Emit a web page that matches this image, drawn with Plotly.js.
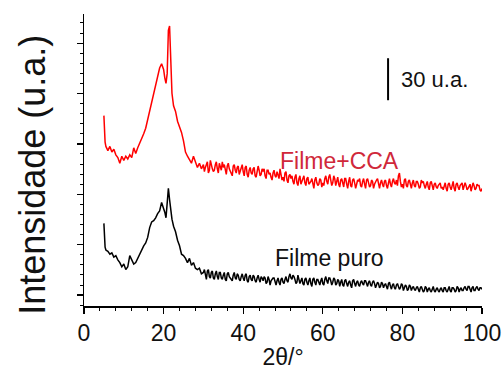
<!DOCTYPE html>
<html>
<head>
<meta charset="utf-8">
<script src="https://cdn.plot.ly/plotly-3.0.1.min.js"></script>
<style>html,body{margin:0;padding:0;background:#fff;}#chart{width:504px;height:370px;}</style>
</head>
<body>
<div id="chart"></div>
<script>
const twoTheta = [5,5.1,5.3,5.5,6,6.5,7,7.5,8,8.5,9,9.5,10,10.5,11,11.5,12,12.5,13,13.5,14,14.5,15,15.5,16,16.5,17,17.5,18,18.5,19,19.5,20,20.3,20.6,20.9,21.2,21.5,21.8,22.1,22.5,23,23.5,24,24.5,25,25.5,26,26.5,27,27.5,28,28.5,29,29.5,30,
30.5,31,31.5,32,32.5,33,33.5,34,34.5,35,35.5,36,36.5,37,37.5,38,38.5,39,39.5,40,
40.5,41,41.5,42,42.5,43,43.5,44,44.5,45,45.5,46,46.5,47,47.5,48,48.5,49,49.5,50,
50.5,51,51.5,52,52.5,53,53.5,54,54.5,55,55.5,56,56.5,57,57.5,58,58.5,59,59.5,60,
60.5,61,61.5,62,62.5,63,63.5,64,64.5,65,65.5,66,66.5,67,67.5,68,68.5,69,69.5,70,
70.5,71,71.5,72,72.5,73,73.5,74,74.5,75,75.5,76,76.5,77,77.5,78,78.5,79,79.5,80,
80.5,81,81.5,82,82.5,83,83.5,84,84.5,85,85.5,86,86.5,87,87.5,88,88.5,89,89.5,90,
90.5,91,91.5,92,92.5,93,93.5,94,94.5,95,95.5,96,96.5,97,97.5,98,98.5,99,99.5,100];

const twoThetaFine = [30.25,30.75,31.25,31.75,32.25,32.75,33.25,33.75,34.25,34.75,
35.25,35.75,36.25,36.75,37.25,37.75,38.25,38.75,39.25,39.75,
40.25,40.75,41.25,41.75,42.25,42.75,43.25,43.75,44.25,44.75,
45.25,45.75,46.25,46.75,47.25,47.75,48.25,48.75,49.25,49.75,
50.25,50.75,51.25,51.75,52.25,52.75,53.25,53.75,54.25,54.75,
55.25,55.75,56.25,56.75,57.25,57.75,58.25,58.75,59.25,59.75,
60.25,60.75,61.25,61.75,62.25,62.75,63.25,63.75,64.25,64.75,
65.25,65.75,66.25,66.75,67.25,67.75,68.25,68.75,69.25,69.75,
70.25,70.75,71.25,71.75,72.25,72.75,73.25,73.75,74.25,74.75,
75.25,75.75,76.25,76.75,77.25,77.75,78.25,78.75,79.25,79.75,
80.25,80.75,81.25,81.75,82.25,82.75,83.25,83.75,84.25,84.75,
85.25,85.75,86.25,86.75,87.25,87.75,88.25,88.75,89.25,89.75,
90.25,90.75,91.25,91.75,92.25,92.75,93.25,93.75,94.25,94.75,
95.25,95.75,96.25,96.75,97.25,97.75,98.25,98.75,99.25,99.75];

const filmeCCA = [136,124,117,114,111,114,110,112,108,106,102,107,104,107,105,108,106,113,109,113,116,119,123,127,133,138,144,150,157,163,170,173,169,163,159,166,197,200,178,152,143,139,132,128,124,118,110,107,104,102,107,103,99,102,98,101,
99,103,97,100,96,101,98,102,97,99,
96,100,98,95,100,97,99,94,98,96,
99,94,97,95,98,93,96,97,94,96,
93,97,94,92,95,93,96,91,94,92,
95,90,93,91,89,92,88,91,87,90,
88,91,87,89,86,90,88,87,90,88,
91,89,92,90,88,91,89,87,90,88,
91,87,89,86,90,88,87,89,86,89,
87,90,88,86,89,87,90,86,88,87,
89,86,88,87,89,88,90,93,89,87,
90,86,89,87,88,86,89,87,85,88,
86,87,85,88,86,87,85,86,88,85,
86,84,87,85,86,84,87,85,86,88,
85,86,84,87,85,86,84,86,83,84];

const filmeCCAFine = [96,102,95,104,98,97,103,95,100,103,
101,94,102,96,93,101,95,100,97,101,
93,100,92,99,94,99,92,100,93,98,
98,91,97,95,90,97,92,94,98,90,
89,96,88,94,93,87,94,86,93,89,
93,86,92,88,91,84,92,86,91,85,
86,93,87,94,86,93,86,92,85,91,
85,91,84,92,85,91,84,90,91,85,
91,84,91,85,90,84,89,91,84,90,
85,90,84,91,85,91,87,86,95,85,
84,91,85,90,84,90,85,89,84,90,
89,84,89,83,89,83,88,84,87,84,
83,88,82,88,83,89,82,88,83,87,
83,88,83,86,82,88,83,87,86,82];

const filmePuro = [59,44,42,40,39,37,38,35,36,33,31,28,30,26,28,36,33,30,31,34,38,41,43,45,49,56,60,61,63,66,68,74,70,67,63,76,84,76,66,62,57,53,47,43,37,36,34,31,34,29,31,27,26,27,23,24,
22,25,21,24,20,23,21,24,20,22,
19,23,21,19,22,20,23,19,21,20,
22,18,21,19,22,18,20,19,21,18,
20,17,19,18,20,16,18,17,19,17,
19,18,21,20,22,19,17,19,18,16,
19,17,18,16,19,17,19,17,18,16,
19,18,20,18,17,19,16,18,17,15,
18,16,17,15,18,16,17,15,17,16,
18,16,17,15,17,16,15,16,14,16,
15,14,16,14,15,13,15,14,13,15,
13,14,12,14,13,12,13,12,13,12,
11,13,12,11,12,11,12,11,12,11,
13,11,12,11,13,12,11,13,12,11,
13,12,14,12,13,11,13,12,13,12];

const filmePuroFine = [26,19,26,20,25,19,25,19,24,19,
24,18,24,20,18,24,19,22,18,23,
18,23,17,22,18,21,17,22,17,20,
21,16,21,15,19,20,15,20,15,20,
16,21,17,23,19,21,16,22,16,20,
15,20,15,20,14,20,15,19,15,20,
15,21,16,20,15,20,15,19,14,19,
14,19,14,18,13,19,14,18,14,18,
15,18,14,18,14,18,13,17,13,17,
13,16,12,17,12,16,12,16,12,16,
11,15,11,15,11,14,11,14,10,14,
10,14,10,13,10,14,10,13,10,13,
10,13,10,14,10,13,10,14,10,13,
11,14,11,14,10,14,11,14,11,13];

const xTicks = [0,20,40,60,80,100];
const seriesNames = ["Filme+CCA","Filme puro"];
const scaleBarX = [76.4,76.4];
const scaleBarY = [147,177];
const scaleBarLabel = "30 u.a.";

// merge the coarse and fine readings into one sorted pattern
function merge(xa, ya, xb, yb){
  const pts = [];
  xa.forEach((v,i)=>pts.push([v, ya[i]]));
  xb.forEach((v,i)=>pts.push([v, yb[i]]));
  pts.sort((a,b)=>a[0]-b[0]);
  return {x: pts.map(p=>p[0]), y: pts.map(p=>p[1])};
}
const cca = merge(twoTheta, filmeCCA, twoThetaFine, filmeCCAFine);
const puro = merge(twoTheta, filmePuro, twoThetaFine, filmePuroFine);

const FONT = "Arial, 'Liberation Sans', sans-serif";

const traces = [
  {x: cca.x, y: cca.y, type:'scatter', mode:'lines', name: seriesNames[0],
   line:{color:'#ff0000', width:1.5}, hoverinfo:'skip'},
  {x: puro.x, y: puro.y, type:'scatter', mode:'lines', name: seriesNames[1],
   line:{color:'#000000', width:1.5}, hoverinfo:'skip'},
  {x: scaleBarX, y: scaleBarY, type:'scatter', mode:'lines',
   line:{color:'#000000', width:2}, hoverinfo:'skip'}
];

const layout = {
  width:504, height:370,
  margin:{l:84, r:22, t:14, b:64},
  paper_bgcolor:'#ffffff', plot_bgcolor:'#ffffff',
  showlegend:false,
  font:{family:FONT, color:'#000'},
  xaxis:{
    range:[0,100], tickvals:xTicks, ticktext:xTicks.map(String),
    showgrid:false, zeroline:false, showline:true, linecolor:'#000', linewidth:1.5,
    ticks:'outside', ticklen:6, tickwidth:1.2, tickcolor:'#000',
    minor:{ticks:'outside', ticklen:3, tickwidth:1, tickcolor:'#000', dtick:4, tick0:0},
    tickfont:{size:23, color:'#111', family:FONT},
    title:{text:'2θ/°', font:{size:23, color:'#111', family:FONT}, standoff:4}
  },
  yaxis:{
    range:[0,208.6], showticklabels:false,
    showgrid:false, zeroline:false, showline:true, linecolor:'#000', linewidth:1.5,
    ticks:'outside', ticklen:6, tickwidth:1.2, tickcolor:'#000', tick0:7.8, dtick:36,
    minor:{ticks:'outside', ticklen:3, tickwidth:1, tickcolor:'#000', dtick:7.2, tick0:0.6}
  },
  annotations:[
    {xref:'paper', yref:'paper', x:-0.13, y:0.45, xanchor:'center', yanchor:'middle',
     text:'Intensidade (u.a.)', textangle:-90, showarrow:false,
     font:{size:36, color:'#111', family:FONT}},
    {xref:'x', yref:'y', x:48.7, y:103.6, xanchor:'left', yanchor:'middle',
     text:seriesNames[0], showarrow:false, font:{size:23, color:'#d0283a', family:FONT}},
    {xref:'x', yref:'y', x:47.5, y:34.6, xanchor:'left', yanchor:'middle',
     text:seriesNames[1], showarrow:false, font:{size:23, color:'#111', family:FONT}},
    {xref:'x', yref:'y', x:79.1, y:162, xanchor:'left', yanchor:'middle',
     text:scaleBarLabel, showarrow:false, font:{size:22, color:'#111', family:FONT}}
  ]
};

Plotly.newPlot('chart', traces, layout, {staticPlot:true, displayModeBar:false});
</script>
</body>
</html>
